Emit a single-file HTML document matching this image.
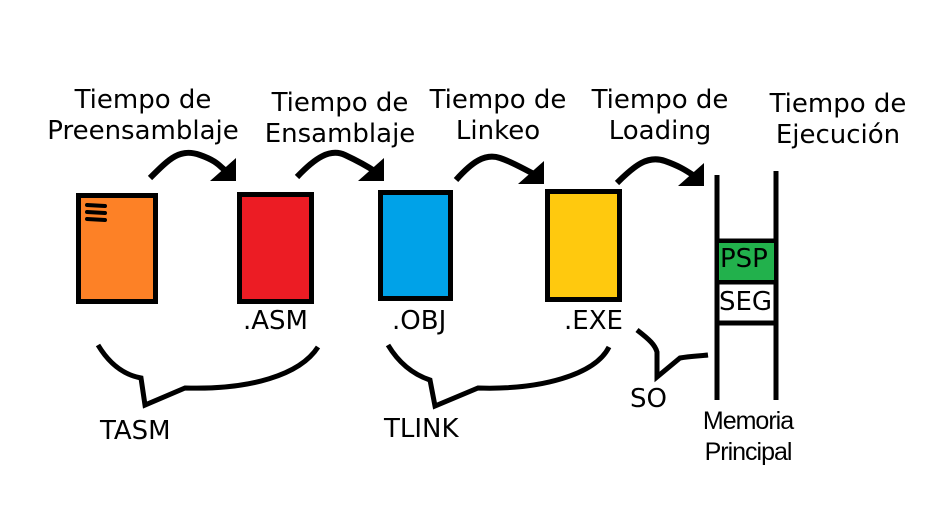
<html><head><style>
body{margin:0;width:949px;height:522px;background:#fff;overflow:hidden;position:relative;font-family:"DejaVu Sans","Liberation Sans",sans-serif}
.t{position:absolute;font-size:26px;color:#000;text-align:center;line-height:31px;white-space:nowrap}
.n{font-family:"Liberation Sans",sans-serif;font-size:25px;letter-spacing:-1px}
</style></head><body>
<svg width="949" height="522" style="position:absolute;left:0;top:0">
<g stroke="#000" stroke-width="5">
<rect x="78.5" y="195.5" width="77" height="106" fill="#fd8126"/>
<rect x="239.5" y="194.5" width="72" height="107" fill="#ec1c24"/>
<rect x="380.5" y="192.5" width="70" height="106" fill="#00a2e8"/>
<rect x="547.5" y="191.5" width="72" height="108" fill="#ffc90e"/>
</g>
<g stroke="#000" stroke-width="4" stroke-linecap="round"><line x1="87" y1="205" x2="105" y2="206"/><line x1="87" y1="212" x2="105" y2="213"/><line x1="87" y1="219" x2="105" y2="220"/></g>
<g fill="none" stroke="#000" stroke-width="6">
<path d="M150,178 C170,158 180,148 200,155 S220,168 228,172"/>
<path d="M297,177 C315,158 330,148 345,155 S370,168 376,172"/>
<path d="M456,180 C472,162 485,153 500,158 S525,170 536,175"/>
<path d="M617,183 C635,165 648,155 665,161 S688,172 696,177"/>
</g>
<g fill="none" stroke="#000" stroke-width="5">
<path d="M98,345 C110,365 125,375 141,378 L145,405 L185,388 C250,390 300,375 318,347"/>
<path d="M388,345 C400,365 415,375 430,380 L435,406 L478,388 C540,390 595,375 609,347"/>
<path d="M637,330 C650,340 655,345 657,352 L657,377 L680,358 C690,356 700,356 708,355"/>
<line x1="717" y1="175" x2="717" y2="400"/><line x1="776" y1="171" x2="776" y2="400"/>
<line x1="717" y1="241" x2="776" y2="241"/><line x1="717" y1="282" x2="776" y2="282"/><line x1="717" y1="323" x2="776" y2="323"/>
</g>
<rect x="719" y="243" width="55" height="37" fill="#22b14c"/>
<g fill="#000">
<polygon points="236,158 236,181 210,181"/>
<polygon points="384,158 384,181 358,181"/>
<polygon points="544,161 544,184 518,184"/>
<polygon points="704,163 704,186 678,186"/>
</g>
</svg>
<div class="t" style="left:43px;top:85px;width:200px">Tiempo de<br>Preensamblaje</div>
<div class="t" style="left:240px;top:88px;width:200px">Tiempo de<br>Ensamblaje</div>
<div class="t" style="left:398px;top:85px;width:200px">Tiempo de<br>Linkeo</div>
<div class="t" style="left:560px;top:85px;width:200px">Tiempo de<br>Loading</div>
<div class="t" style="left:738px;top:89px;width:200px">Tiempo de<br>Ejecución</div>
<div class="t" style="left:243px;top:306px">.ASM</div>
<div class="t" style="left:392px;top:306px">.OBJ</div>
<div class="t" style="left:564px;top:306px">.EXE</div>
<div class="t" style="left:100px;top:416px">TASM</div>
<div class="t" style="left:384px;top:414px">TLINK</div>
<div class="t" style="left:630px;top:384px">SO</div>
<div class="t" style="left:720px;top:244px">PSP</div>
<div class="t" style="left:719px;top:287px">SEG</div>
<div class="t n" style="left:698px;top:406px;width:100px">Memoria<br>Principal</div>
</body></html>
